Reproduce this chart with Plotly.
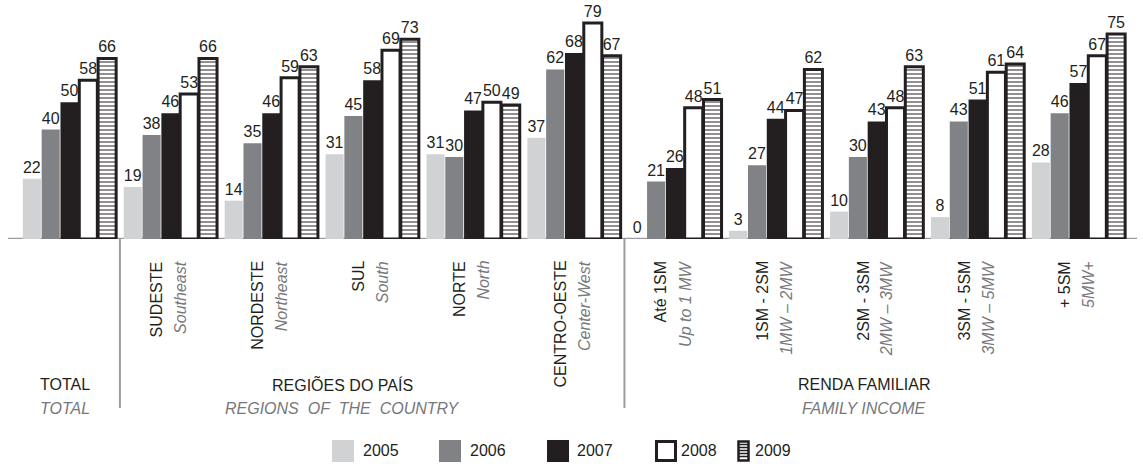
import plotly.graph_objects as go

# ---------------- data ----------------
categories_pt = ["TOTAL", "SUDESTE", "NORDESTE", "SUL", "NORTE", "CENTRO-OESTE",
                 "Até 1SM", "1SM - 2SM", "2SM - 3SM", "3SM - 5SM", "+ 5SM"]
categories_en = ["TOTAL", "Southeast", "Northeast", "South", "North", "Center-West",
                 "Up to 1 MW", "1MW – 2MW", "2MW – 3MW", "3MW – 5MW", "5MW+"]
years = ["2005", "2006", "2007", "2008", "2009"]
v2005 = [22, 19, 14, 31, 31, 37, 0, 3, 10, 8, 28]
v2006 = [40, 38, 35, 45, 30, 62, 21, 27, 30, 43, 46]
v2007 = [50, 46, 46, 58, 47, 68, 26, 44, 43, 51, 57]
v2008 = [58, 53, 59, 69, 50, 79, 48, 47, 48, 61, 67]
v2009 = [66, 66, 63, 73, 49, 67, 51, 62, 63, 64, 75]
sections_pt = ["TOTAL", "REGIÕES DO PAÍS", "RENDA FAMILIAR"]
sections_en = ["TOTAL", "REGIONS\u00a0 OF\u00a0 THE\u00a0 COUNTRY", "FAMILY INCOME"]

# ---------------- layout constants ----------------
W, H = 1143, 464
MB = 225
PH = H - MB
FONT = "Liberation Sans, Arial, sans-serif"
DARK = "#231f20"
GRAY_TXT = "#77787b"
colors = ["#d1d2d4", "#808285", DARK, "white", "white"]

def px2x(px):
    return px / W

def px2y(py):
    return (PH - py) / PH

x = list(range(len(categories_pt)))
series = [v2005, v2006, v2007, v2008, v2009]

fig = go.Figure()
for i, (yr, vals) in enumerate(zip(years, series)):
    marker = dict(color=colors[i], line=dict(width=0))
    if i >= 3:
        marker["line"] = dict(width=3, color=DARK)
    if i == 4:
        marker["pattern"] = dict(shape="-", fgcolor=DARK, bgcolor="white",
                                 size=4, solidity=0.5)
    fig.add_trace(go.Bar(
        x=x, y=vals, name=yr, marker=marker,
        text=vals, texttemplate="%{text}", textposition="outside",
        textfont=dict(size=16, color=DARK, family=FONT),
        constraintext="none", cliponaxis=False, showlegend=False,
        hoverinfo="skip",
    ))

x0_px, pitch = 69.5, 100.9
fig.update_layout(
    width=W, height=H,
    margin=dict(l=0, r=0, t=0, b=MB),
    paper_bgcolor="white", plot_bgcolor="white",
    barmode="group", bargap=0.068, bargroupgap=0.04,
    xaxis=dict(range=[-x0_px / pitch, (W - x0_px) / pitch], visible=False),
    yaxis=dict(range=[0, PH / 2.735], visible=False),
    font=dict(family=FONT, size=16, color=DARK),
)

shapes = []
# baseline
shapes.append(dict(type="line", xref="paper", yref="y", x0=px2x(8), x1=px2x(1137),
                   y0=0, y1=0, line=dict(color="#9d9d9d", width=2.5), layer="below"))
# separators
for sx in [0.5, 5.5]:
    shapes.append(dict(type="line", xref="x", yref="paper", x0=sx, x1=sx,
                       y0=px2y(239), y1=px2y(408), line=dict(color="#9d9d9d", width=2)))

annotations = []
# rotated category labels
for i in range(1, len(categories_pt)):
    annotations.append(dict(x=i, xref="x", xshift=-14, y=px2y(259), yref="paper",
                            text=categories_pt[i], textangle=-90, showarrow=False,
                            xanchor="center", yanchor="top",
                            font=dict(size=16, color=DARK, family=FONT)))
    annotations.append(dict(x=i, xref="x", xshift=10, y=px2y(259), yref="paper",
                            text="<i>" + categories_en[i] + "</i>", textangle=-90,
                            showarrow=False, xanchor="center", yanchor="top",
                            font=dict(size=16, color=GRAY_TXT, family=FONT)))
# section headers
for sx, pt, en in zip([65, 342, 864], sections_pt, sections_en):
    annotations.append(dict(x=px2x(sx), xref="paper", y=px2y(384), yref="paper",
                            text=pt, showarrow=False, xanchor="center", yanchor="middle",
                            font=dict(size=16, color=DARK, family=FONT)))
    annotations.append(dict(x=px2x(sx), xref="paper", y=px2y(408), yref="paper",
                            text="<i>" + en + "</i>", showarrow=False,
                            xanchor="center", yanchor="middle",
                            font=dict(size=16, color=GRAY_TXT, family=FONT)))

# custom legend
leg_sq = [332, 439, 547, 655]
leg_txt = [361, 468, 575, 679, 753]
ly0, ly1 = 440, 462
for i in range(3):
    shapes.append(dict(type="rect", xref="paper", yref="paper",
                       x0=px2x(leg_sq[i]), x1=px2x(leg_sq[i] + 22),
                       y0=px2y(ly1), y1=px2y(ly0), fillcolor=colors[i],
                       line=dict(width=0)))
shapes.append(dict(type="rect", xref="paper", yref="paper",
                   x0=px2x(656.5), x1=px2x(675.5), y0=px2y(460.5), y1=px2y(441.5),
                   fillcolor="white", line=dict(width=3, color=DARK)))
for ly in [444.5, 447.5, 450.5, 453.5, 456.5]:
    shapes.append(dict(type="line", xref="paper", yref="paper",
                       x0=px2x(739), x1=px2x(748), y0=px2y(ly), y1=px2y(ly),
                       line=dict(width=1.5, color=DARK)))
shapes.append(dict(type="rect", xref="paper", yref="paper",
                   x0=px2x(738.5), x1=px2x(748.5), y0=px2y(460.5), y1=px2y(441.5),
                   fillcolor="rgba(0,0,0,0)", line=dict(width=2.5, color=DARK)))
for tx, yr in zip(leg_txt, years):
    annotations.append(dict(x=px2x(tx), xref="paper", y=px2y(451), yref="paper",
                            text=yr, showarrow=False, xanchor="left", yanchor="middle",
                            font=dict(size=16, color=DARK, family=FONT)))

fig.update_layout(shapes=shapes, annotations=annotations)
fig.write_html("out.html",
               config={"displayModeBar": False},
               post_script="document.body.style.margin='0px';"
                           "document.body.style.overflow='hidden';")
